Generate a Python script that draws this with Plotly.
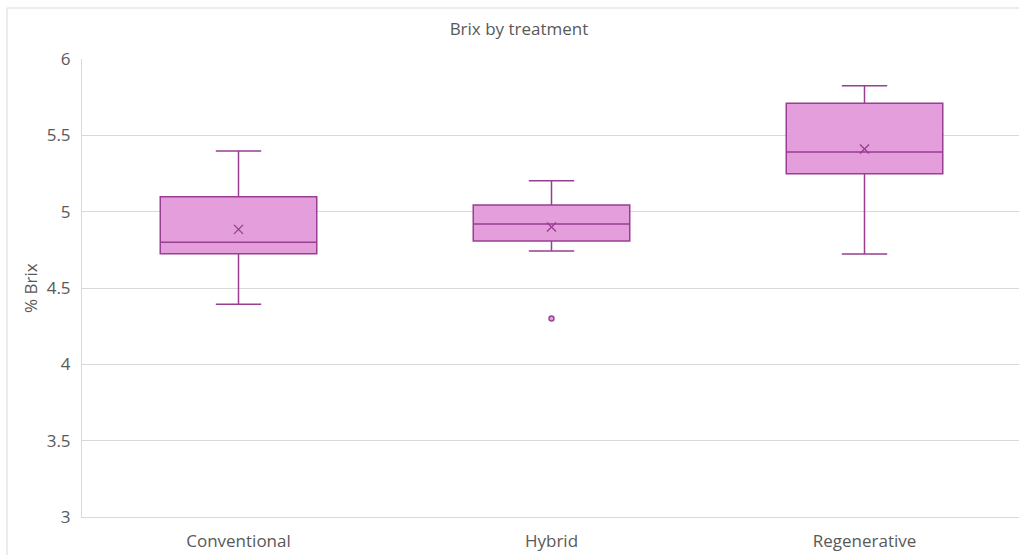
import plotly.graph_objects as go

# Brix summary statistics per treatment
categories = ["Conventional", "Hybrid", "Regenerative"]
q1_vals = [4.725, 4.808, 5.249]
median_vals = [4.80, 4.919, 5.391]
q3_vals = [5.098, 5.044, 5.71]
lower_whisker = [4.393, 4.742, 4.723]
upper_whisker = [5.397, 5.203, 5.825]
mean_vals = [4.884, 4.90, 5.41]
outlier_cats = ["Hybrid"]
outlier_vals = [4.30]

W, H = 1019, 555
ML, MR, MT, MB = 82, 0, 59, 38

FILL = "#e39edb"
LINE = "#983f92"
GRID = "#d9d9d9"
TEXT = "#595959"
FONT = "Open Sans"
FS = 17

pos = {c: i for i, c in enumerate(categories)}
xs = [pos[c] for c in categories]

fig = go.Figure()
fig.add_trace(go.Box(
    x=xs,
    q1=q1_vals, median=median_vals, q3=q3_vals,
    lowerfence=lower_whisker, upperfence=upper_whisker,
    boxpoints=False,
    width=0.5,
    whiskerwidth=0.29,
    fillcolor=FILL,
    line=dict(color=LINE, width=1.5),
    showlegend=False,
    hoverinfo="skip",
))
fig.add_trace(go.Scatter(
    x=xs, y=mean_vals, mode="markers",
    marker=dict(symbol="x-thin", size=9, line=dict(color=LINE, width=1.4)),
    showlegend=False, hoverinfo="skip",
))
fig.add_trace(go.Scatter(
    x=[pos[c] for c in outlier_cats], y=outlier_vals, mode="markers",
    marker=dict(symbol="circle", size=5, color=FILL, line=dict(color=LINE, width=1.4)),
    showlegend=False, hoverinfo="skip",
))

plot_w = W - ML - MR
plot_h = H - MT - MB
# category band is 313 px wide; the chart continues past the right edge
band = 313.0
x_lo = -0.5
x_hi = x_lo + plot_w / band

fig.update_layout(
    width=W, height=H,
    margin=dict(l=ML, r=MR, t=MT, b=MB, pad=0),
    paper_bgcolor="white", plot_bgcolor="white",
    font=dict(family=FONT, color=TEXT, size=FS),
    title=dict(text="Brix by treatment", x=519 / W, xref="container", xanchor="center",
               y=1 - 29 / H, yref="container", yanchor="middle",
               font=dict(family=FONT, size=FS, color=TEXT)),
    xaxis=dict(range=[x_lo, x_hi], tickvals=xs, ticktext=categories,
               showgrid=False, zeroline=False, showline=True, linecolor=GRID, linewidth=1,
               ticks="", tickfont=dict(size=FS, color=TEXT), ticklabelstandoff=9),
    yaxis=dict(range=[3, 6], dtick=0.5, tickformat="~g",
               showgrid=True, gridcolor=GRID, gridwidth=1,
               zeroline=False, showline=True, linecolor=GRID, linewidth=1,
               ticks="", tickfont=dict(size=FS, color=TEXT), ticklabelstandoff=7),
)
fig.update_xaxes(layer="below traces")
fig.update_yaxes(layer="below traces")

# y-axis title
fig.add_annotation(text="% Brix", textangle=-90, showarrow=False,
                   xref="paper", yref="paper",
                   x=(30 - ML) / plot_w, y=0.5, xanchor="center", yanchor="middle",
                   font=dict(family=FONT, size=FS, color=TEXT))

# outer chart border
x0p = (7 - ML) / plot_w
y1p = 1 + (MT - 8) / plot_h
fig.add_shape(type="rect", xref="paper", yref="paper",
              x0=x0p, x1=1.2, y0=-0.5, y1=y1p,
              line=dict(color=GRID, width=1), fillcolor="rgba(0,0,0,0)", layer="below")

fig.write_html("out.html")
